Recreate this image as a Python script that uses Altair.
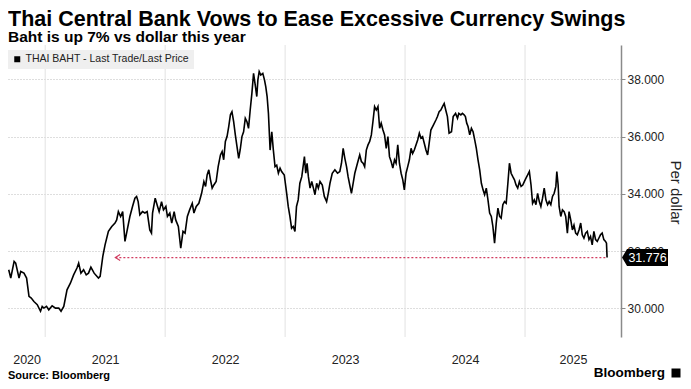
import altair as alt
import pandas as pd

# ---------------- data (decimal years, THB per USD) ----------------
T_2020_21 = [2020.696, 2020.713, 2020.741, 2020.754, 2020.782, 2020.796, 2020.823, 2020.845, 2020.865, 2020.884,
             2020.906, 2020.934, 2020.961, 2020.975, 2020.989, 2021.011, 2021.030, 2021.058, 2021.086, 2021.113,
             2021.132, 2021.155, 2021.182, 2021.210, 2021.237, 2021.265, 2021.279, 2021.298, 2021.320, 2021.342,
             2021.361, 2021.381, 2021.408, 2021.444, 2021.458, 2021.480, 2021.499, 2021.527, 2021.555, 2021.582,
             2021.596, 2021.610, 2021.629, 2021.646, 2021.665, 2021.684, 2021.706, 2021.728, 2021.748, 2021.762,
             2021.775, 2021.789, 2021.811, 2021.831, 2021.850, 2021.872, 2021.886]
V_2020_21 = [31.35, 31.06, 31.64, 31.58, 31.06, 31.29, 31.23, 31.06, 30.42, 30.36,
             30.24, 30.13, 29.90, 30.07, 30.01, 30.07, 29.95, 30.09, 30.01, 30.01,
             29.90, 30.07, 30.65, 30.88, 31.17, 31.41, 31.58, 31.23, 31.35, 31.17,
             31.23, 31.44, 31.23, 31.06, 31.12, 31.81, 32.22, 32.69, 32.86, 32.98,
             33.09, 33.38, 33.21, 33.38, 32.34, 32.74, 33.21, 33.56, 33.85, 33.91,
             33.73, 33.27, 33.38, 33.33, 33.38, 32.74, 32.63]

T_2022 = [2021.895, 2021.917, 2021.937, 2021.950, 2021.970, 2021.986, 2022.006, 2022.019, 2022.039, 2022.055,
          2022.075, 2022.088, 2022.110, 2022.130, 2022.149, 2022.166, 2022.185, 2022.204, 2022.226, 2022.240,
          2022.259, 2022.281, 2022.304, 2022.323, 2022.337, 2022.350, 2022.364, 2022.378, 2022.392, 2022.406,
          2022.425, 2022.442, 2022.461, 2022.475, 2022.488, 2022.502, 2022.516, 2022.530, 2022.544, 2022.557,
          2022.571, 2022.585, 2022.599, 2022.613, 2022.626, 2022.640, 2022.654, 2022.668, 2022.682, 2022.695,
          2022.709, 2022.723, 2022.737, 2022.751, 2022.764, 2022.773, 2022.784, 2022.797, 2022.814, 2022.828,
          2022.839, 2022.850, 2022.861, 2022.875, 2022.889, 2022.902, 2022.916, 2022.930, 2022.944, 2022.958,
          2022.971, 2022.993, 2023.013, 2023.026, 2023.040, 2023.054, 2023.068, 2023.082, 2023.095, 2023.109,
          2023.123]
V_2022 = [33.33, 33.85, 33.56, 33.38, 33.73, 33.44, 33.56, 33.21, 33.33, 32.98,
          33.38, 33.09, 32.86, 32.10, 32.69, 32.63, 33.21, 33.44, 33.67, 33.33,
          33.56, 33.67, 34.02, 34.43, 34.26, 34.66, 34.84, 34.49, 34.20, 34.31,
          34.43, 34.95, 35.36, 35.48, 35.19, 35.83, 36.00, 36.35, 36.76, 36.87,
          36.52, 36.06, 35.65, 35.24, 35.55, 36.00, 36.17, 36.64, 36.52, 36.29,
          36.93, 37.51, 38.21, 37.80, 37.40, 37.98, 38.27, 38.15, 38.21, 37.98,
          37.74, 37.40, 36.81, 35.53, 36.17, 35.53, 34.95, 35.00, 34.72, 34.90,
          34.78, 34.66, 34.02, 33.56, 33.21, 32.80, 32.86, 32.69, 33.56, 33.79,
          34.37]

T_2023 = [2023.139, 2023.161, 2023.172, 2023.183, 2023.194, 2023.208, 2023.222, 2023.236, 2023.249, 2023.263,
          2023.277, 2023.291, 2023.310, 2023.327, 2023.346, 2023.360, 2023.374, 2023.393, 2023.415, 2023.437,
          2023.456, 2023.470, 2023.484, 2023.498, 2023.512, 2023.525, 2023.539, 2023.553, 2023.567, 2023.581,
          2023.603, 2023.622, 2023.636, 2023.650, 2023.663, 2023.677, 2023.691, 2023.705, 2023.719, 2023.732,
          2023.746, 2023.760, 2023.774, 2023.788, 2023.801, 2023.815, 2023.829, 2023.843, 2023.857, 2023.870,
          2023.884, 2023.898, 2023.912, 2023.925, 2023.939, 2023.953, 2023.967, 2023.981, 2023.994, 2024.008,
          2024.022, 2024.036, 2024.050, 2024.063, 2024.077, 2024.091, 2024.105, 2024.119, 2024.132, 2024.146,
          2024.160, 2024.174, 2024.188, 2024.201, 2024.215, 2024.237, 2024.257, 2024.270, 2024.284, 2024.298,
          2024.312, 2024.326, 2024.339, 2024.353, 2024.367]
V_2023 = [34.60, 35.30, 34.72, 35.07, 34.60, 34.20, 34.43, 34.20, 33.97, 34.37,
          34.20, 34.43, 34.31, 33.91, 33.73, 34.02, 34.37, 34.72, 34.84, 34.72,
          34.78, 35.07, 35.59, 35.24, 34.95, 34.60, 34.31, 34.02, 34.37, 34.72,
          35.07, 35.36, 35.13, 35.07, 34.95, 35.53, 35.71, 35.83, 36.06, 36.52,
          37.05, 36.93, 37.05, 36.29, 36.47, 36.24, 36.06, 35.59, 36.00, 35.30,
          35.13, 34.90, 35.19, 35.07, 35.71, 35.07, 34.72, 34.49, 34.14, 34.72,
          34.95, 35.19, 35.59, 35.41, 35.53, 35.71, 35.88, 36.12, 35.95, 36.00,
          35.77, 35.53, 35.36, 35.77, 36.23, 36.41, 36.58, 36.70, 36.87, 36.93,
          37.05, 37.16, 36.93, 36.70, 36.12]

T_2024_25 = [2024.387, 2024.401, 2024.421, 2024.437, 2024.448, 2024.465, 2024.478, 2024.492, 2024.503, 2024.514,
             2024.525, 2024.539, 2024.553, 2024.567, 2024.581, 2024.594, 2024.608, 2024.622, 2024.636, 2024.650,
             2024.663, 2024.677, 2024.691, 2024.705, 2024.719, 2024.732, 2024.746, 2024.760, 2024.774, 2024.788,
             2024.801, 2024.815, 2024.829, 2024.843, 2024.857, 2024.870, 2024.884, 2024.898, 2024.912, 2024.925,
             2024.939, 2024.953, 2024.967, 2024.981, 2024.994, 2025.008, 2025.022, 2025.036, 2025.050, 2025.063,
             2025.077, 2025.091, 2025.105, 2025.119, 2025.132, 2025.146, 2025.160, 2025.174, 2025.188, 2025.201,
             2025.215, 2025.229, 2025.243, 2025.257, 2025.265, 2025.276, 2025.284, 2025.298, 2025.312, 2025.326,
             2025.339, 2025.353, 2025.367, 2025.381, 2025.395, 2025.408, 2025.422, 2025.436, 2025.450, 2025.464,
             2025.477, 2025.491, 2025.505, 2025.519, 2025.533, 2025.546, 2025.560, 2025.574, 2025.588, 2025.602,
             2025.615, 2025.629, 2025.643, 2025.657, 2025.671, 2025.679, 2025.684]
V_2024_25 = [36.17, 36.70, 36.81, 36.64, 36.81, 36.76, 36.81, 36.76, 36.70, 36.47,
             36.35, 36.06, 36.29, 36.17, 35.88, 35.59, 35.19, 34.84, 34.37, 34.14,
             33.97, 34.20, 33.79, 33.33, 33.21, 32.86, 32.28, 32.98, 33.50, 33.21,
             33.15, 33.62, 33.73, 33.67, 34.37, 35.07, 34.72, 34.60, 34.49, 34.31,
             34.20, 34.43, 34.26, 34.31, 34.43, 34.55, 34.66, 34.78, 34.31, 33.67,
             33.79, 33.62, 34.02, 33.73, 33.56, 33.85, 34.20, 33.79, 33.62, 33.73,
             33.62, 33.91, 34.02, 34.26, 34.78, 34.31, 33.56, 33.21, 33.44, 33.38,
             33.21, 32.63, 33.38, 33.09, 32.74, 32.91, 32.63, 32.57, 32.74, 32.98,
             32.57, 32.45, 32.63, 32.69, 32.40, 32.51, 32.22, 32.69, 32.40, 32.34,
             32.45, 32.57, 32.63, 32.40, 32.34, 32.28, 31.776]

LAST_VALUE = 31.776
PRIOR_LEVEL_T = 2021.585          # start of the dotted "last seen" marker
X_DOMAIN = [2020.69, 2025.80]
Y_DOMAIN = [29.0, 39.2]
GRID_YEARS = [2021, 2022, 2023, 2024, 2025]
LABEL_YEARS = [2020, 2021, 2022, 2023, 2024, 2025]
Y_TICKS = [30, 31, 32, 33, 34, 35, 36, 37, 38, 39]

TITLE = "Thai Central Bank Vows to Ease Excessive Currency Swings"
SUBTITLE = "Baht is up 7% vs dollar this year"
SERIES = "THAI BAHT - Last Trade/Last Price"
Y_TITLE = "Per dollar"
SOURCE = "Source: Bloomberg"
BRAND = "Bloomberg"

# ---------------- build ----------------
FONT = "Liberation Sans"
RED = "#d23c60"
W, H = 613, 292

T = T_2020_21 + T_2022 + T_2023 + T_2024_25
V = V_2020_21 + V_2022 + V_2023 + V_2024_25
line_df = pd.DataFrame({"t": T, "v": V, "series": SERIES})

label_pos = [(max(X_DOMAIN[0], yr) + min(X_DOMAIN[1], yr + 1)) / 2 for yr in LABEL_YEARS]

x_scale = alt.Scale(domain=X_DOMAIN, nice=False, zero=False)
y_scale = alt.Scale(domain=Y_DOMAIN, nice=False, zero=False)

x_axis = alt.Axis(values=label_pos, labelExpr="'' + floor(datum.value)", grid=False, ticks=False,
                  domain=False, labelFont=FONT, labelFontSize=12.5, labelColor="#222222",
                  labelPadding=16, title=None)
y_axis = alt.Axis(orient="right", values=Y_TICKS,
                  labelExpr="datum.value % 2 == 0 ? format(datum.value, '.3f') : ''",
                  grid=True, gridDash=[1, 2], gridColor="#bdbdbd",
                  gridOpacity={"condition": {"test": "datum.value % 2 == 0", "value": 1}, "value": 0},
                  domainColor="#8a8a8a", domainWidth=1.5, tickColor="#8a8a8a", tickSize=4,
                  labelFont=FONT, labelFontSize=12, labelColor="#222222", labelPadding=2,
                  title=Y_TITLE, titleFont=FONT, titleFontSize=15, titleFontWeight="normal",
                  titleColor="#222222", titleAngle=90, titleX=54, titleY=147,
                  titleAlign="center", titleBaseline="middle")

X = alt.X("t:Q", scale=x_scale, axis=x_axis)
Y = alt.Y("v:Q", scale=y_scale, axis=y_axis)

grid_rules = alt.Chart(pd.DataFrame({"t": GRID_YEARS})).mark_rule(
    color="#e2e2e2", strokeWidth=1).encode(x=X)

line = alt.Chart(line_df).mark_line(strokeWidth=1.6, interpolate="linear").encode(
    x=X, y=Y,
    color=alt.Color("series:N", scale=alt.Scale(range=["#000000"]),
                    legend=alt.Legend(title=None, orient="none", legendX=0, legendY=5,
                                      symbolType="square", symbolSize=36,
                                      symbolFillColor="#000000", symbolStrokeColor="#000000",
                                      symbolStrokeWidth=0, fillColor="#efefef", padding=4,
                                      labelFont=FONT, labelFontSize=10.5, labelColor="#222222",
                                      labelOffset=3, labelLimit=400)))

marker_df = pd.DataFrame({"t": [PRIOR_LEVEL_T], "t2": [T[-1]], "v": [LAST_VALUE]})
dotted = alt.Chart(marker_df).mark_rule(color=RED, strokeDash=[2, 2], strokeWidth=1.2).encode(
    x="t:Q", x2="t2:Q", y="v:Q")
arrow = alt.Chart(marker_df).mark_point(shape="M1.6,-1L0,0L1.6,1", filled=False, color=RED,
                                        size=36, strokeWidth=1.2, opacity=1).encode(x="t:Q", y="v:Q")

last_df = pd.DataFrame({"t": [X_DOMAIN[1]], "v": [LAST_VALUE], "label": [format(LAST_VALUE, ".3f")]})
tag_box = alt.Chart(last_df).mark_point(
    shape="M-1,0L-0.78,-0.37L1,-0.37L1,0.37L-0.78,0.37Z", filled=True, color="#000000",
    size=2116, xOffset=24, opacity=1).encode(x="t:Q", y="v:Q")
tag_text = alt.Chart(last_df).mark_text(color="#ffffff", font=FONT, fontSize=12.5, align="center",
                                        baseline="middle", dx=26.5).encode(x="t:Q", y="v:Q", text="label:N")

def txt(s, x, y, size, bold=True, align="left", color="#000000", baseline="alphabetic"):
    return alt.Chart(pd.DataFrame({"s": [s]})).mark_text(
        font=FONT, fontSize=size, fontWeight="bold" if bold else "normal", align=align,
        baseline=baseline, color=color).encode(text="s:N", x=alt.value(x), y=alt.value(y))

title = txt(TITLE, 0, -19, 21.5)
subtitle = txt(SUBTITLE, 0, -3, 15.5)
source = txt(SOURCE, 0, 331, 11, baseline="middle")
brand = txt(BRAND, 657, 328, 13.5, align="right", baseline="middle")
logo = alt.Chart(pd.DataFrame({"s": [BRAND]})).mark_point(
    shape="square", filled=True, color="#000000", size=81, opacity=1).encode(
    x=alt.value(668), y=alt.value(328))

chart = alt.layer(grid_rules, dotted, arrow, line, tag_box, tag_text,
                  title, subtitle, source, brand, logo).properties(
    width=W, height=H,
    padding={"left": 0, "top": 37, "right": 62, "bottom": 44},
    autosize=alt.AutoSizeParams(type="none"),
    background="#ffffff",
).configure_view(stroke=None)

chart.save("out.html", embed_options={"renderer": "svg", "actions": False})
